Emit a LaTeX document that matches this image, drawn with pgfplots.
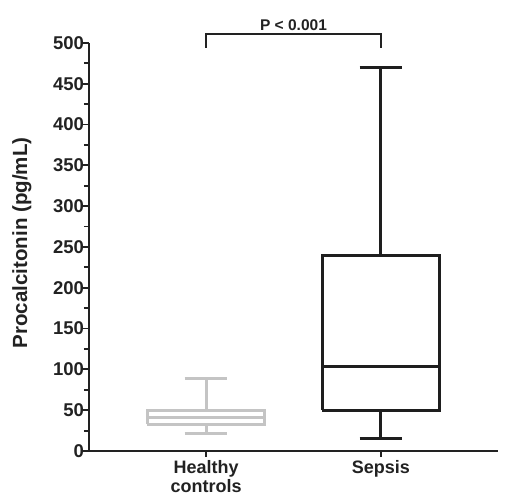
\documentclass[border=0pt]{standalone}
\usepackage{pgfplots}
\pgfplotsset{compat=1.18}
\usepackage{fontspec}
\setmainfont{Liberation Sans}
\definecolor{txt}{HTML}{222222}
\definecolor{hgray}{HTML}{C4C4C4}
\definecolor{sblack}{HTML}{1E1E1E}
\begin{document}
\begin{tikzpicture}
\path[use as bounding box] (-89pt,-46pt) rectangle (416pt,451pt);
\begin{axis}[
  at={(0pt,0pt)}, anchor=south west,
  scale only axis, width=409pt, height=408pt,
  xmin=0.331, xmax=2.669, ymin=0, ymax=500,
  axis lines*=left,
  axis line style={line width=1.8pt, txt},
  xtick={1,2},
  xticklabels={{Healthy\\controls},{Sepsis}},
  x tick label style={align=center, font=\bfseries\fontsize{18}{19}\selectfont, text=txt},
  ytick={0,50,...,500},
  minor y tick num=1,
  tick align=outside,
  major tick length=6pt, minor tick length=5pt,
  tick style={line width=1.8pt, txt},
  y tick label style={font=\bfseries\fontsize{18.5}{19}\selectfont, text=txt, xshift=4.5pt},
  /pgf/number format/assume math mode=true,
  ylabel={Procalcitonin (pg/mL)},
  ylabel style={at={(axis description cs:-0.164,0.51)}, anchor=center, font=\bfseries\fontsize{20.5}{20.5}\selectfont, text=txt},
  unbounded coords=jump,
  clip=false,
]
% Healthy controls
\addplot[draw=hgray, line width=3pt, line join=miter, mark=none] coordinates {
  (0.665,33) (1.335,33) (1.335,50) (0.665,50) (0.665,33)
  (0.665,nan) (0.665,41) (1.335,41)
  (1,nan) (1,50) (1,89) (1,nan) (0.8775,89) (1.1225,89)
  (1,nan) (1,33) (1,21.7) (1,nan) (0.8775,21.7) (1.1225,21.7)
};
% Sepsis
\addplot[draw=sblack, line width=3pt, line join=miter, mark=none] coordinates {
  (1.665,50) (2.335,50) (2.335,240) (1.665,240) (1.665,50)
  (1.665,nan) (1.665,103) (2.335,103)
  (2,nan) (2,240) (2,470) (2,nan) (1.8775,470) (2.1225,470)
  (2,nan) (2,50) (2,15) (2,nan) (1.8775,15) (2.1225,15)
};
\draw[txt, line width=1.3pt] (axis cs:1,494) -- (axis cs:1,511) -- (axis cs:2,511) -- (axis cs:2,494);
\node[txt, anchor=south, inner sep=0pt, font=\bfseries\fontsize{15.5}{15.5}\selectfont] at (axis cs:1.5,515) {P < 0.001};
\end{axis}
\end{tikzpicture}
\end{document}
